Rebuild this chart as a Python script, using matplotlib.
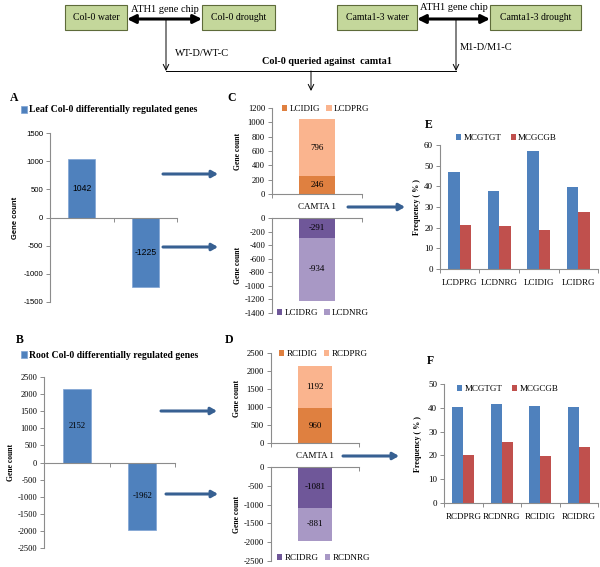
import matplotlib.pyplot as plt
import numpy as np
from matplotlib.patches import Rectangle

plt.rcParams['axes.unicode_minus'] = False

# data
leaf_counts = [1042, -1225]
root_counts = [2152, -1962]

leaf_up_names = ['LCIDIG', 'LCDPRG']
leaf_up_vals = [246, 796]
leaf_down_names = ['LCIDRG', 'LCDNRG']
leaf_down_vals = [-291, -934]
root_up_names = ['RCIDIG', 'RCDPRG']
root_up_vals = [960, 1192]
root_down_names = ['RCIDRG', 'RCDNRG']
root_down_vals = [-1081, -881]

leaf_groups = ['LCDPRG', 'LCDNRG', 'LCIDIG', 'LCIDRG']
leaf_mcgtgt = [46.7, 37.6, 57.2, 39.9]
leaf_mcgcgb = [21.5, 21.0, 18.9, 27.5]
root_groups = ['RCDPRG', 'RCDNRG', 'RCIDIG', 'RCIDRG']
root_mcgtgt = [40.2, 41.7, 40.8, 40.2]
root_mcgcgb = [20.0, 25.6, 19.9, 23.7]
motif_names = ['MCGTGT', 'MCGCGB']

W, H = 600, 567
SERIF = 'Liberation Serif'
SANS = 'Liberation Sans'
blue = '#4F81BD'
red = '#C0504D'
up_cols = ['#DF8040', '#FAB48E']
down_cols = ['#6F5799', '#A898C5']
gray = '#8C8C8C'
arrow_col = '#376092'

fig = plt.figure(figsize=(6, 5.67), dpi=100)


def box(x0, y0, x1, y1):
    return [x0 / W, 1 - y1 / H, (x1 - x0) / W, (y1 - y0) / H]


def figpt(x, y):
    return (x / W, 1 - y / H)


def ylab(ax, text, xpix, family, size):
    x0, y0, w, h = ax.get_position().bounds
    ax.set_ylabel(text, family=family, fontsize=size, fontweight='bold', va='center')
    ax.yaxis.set_label_coords((xpix / W - x0) / w, 0.5)


def style(ax, family, size, zero_top=False):
    ax.set_facecolor('none')
    for s in ['top', 'right', 'bottom', 'left']:
        ax.spines[s].set_visible(False)
    ax.spines['left'].set_visible(True)
    ax.spines['left'].set_color(gray)
    ax.spines['left'].set_linewidth(0.8)
    xs = 'top' if zero_top else 'bottom'
    ax.spines[xs].set_visible(True)
    ax.spines[xs].set_color(gray)
    ax.spines[xs].set_linewidth(0.8)
    ax.tick_params(axis='y', length=3, width=0.7, color=gray, pad=2,
                   labelsize=size, labelfontfamily=family)
    ax.tick_params(axis='x', which='minor', length=3, width=0.7, color=gray)


def legend_at(handles, labels, x, y, size, weight='normal', ncol=1, colsp=0.8):
    fig.legend(handles=handles, labels=labels, loc='center left', frameon=False,
               ncol=ncol, bbox_to_anchor=figpt(x, y), borderpad=0, borderaxespad=0,
               handlelength=0.6, handleheight=0.7, handletextpad=0.25,
               columnspacing=colsp, prop=dict(family=SERIF, size=size, weight=weight))


# overlay for flowchart, panel letters and arrows
ov = fig.add_axes([0, 0, 1, 1])
ov.set_xlim(0, W)
ov.set_ylim(H, 0)
ov.set_facecolor('none')
ov.axis('off')

for (x0, x1, txt) in [(65, 127, 'Col-0 water'), (202, 275, 'Col-0 drought'),
                      (337, 417, 'Camta1-3 water'), (490, 581, 'Camta1-3 drought')]:
    ov.add_patch(Rectangle((x0, 5), x1 - x0, 25, fc='#C4D79B', ec='#5E6B3A', lw=0.8))
    ov.text((x0 + x1) / 2, 17.5, txt, ha='center', va='center', family=SERIF, fontsize=7)

for (x0, x1) in [(127, 202), (417, 490)]:
    ov.annotate('', xy=(x1, 19), xytext=(x0, 19),
                arrowprops=dict(arrowstyle='<|-|>,head_length=0.5,head_width=0.25',
                                color='black', lw=2.2, shrinkA=0, shrinkB=0))
ov.text(165, 9, 'ATH1 gene chip', ha='center', va='center', family=SERIF, fontsize=7.5)
ov.text(454, 8, 'ATH1 gene chip', ha='center', va='center', family=SERIF, fontsize=7.5)

for x in [166, 456]:
    ov.annotate('', xy=(x, 71), xytext=(x, 19),
                arrowprops=dict(arrowstyle='->,head_length=0.4,head_width=0.2',
                                color='black', lw=0.7, shrinkA=0, shrinkB=0))
ov.plot([166, 456], [71, 71], color='black', lw=0.7)
ov.annotate('', xy=(311, 91), xytext=(311, 71),
            arrowprops=dict(arrowstyle='->,head_length=0.4,head_width=0.2',
                            color='black', lw=0.7, shrinkA=0, shrinkB=0))
ov.text(175, 53, 'WT-D/WT-C', ha='left', va='center', family=SERIF, fontsize=7.5)
ov.text(460, 48, 'M1-D/M1-C', ha='left', va='center', family=SERIF, fontsize=7.5)
ov.text(327, 62, 'Col-0 queried against  camta1', ha='center', va='center',
        family=SERIF, fontsize=7.3, fontweight='bold')

for (x, y, t) in [(14, 98, 'A'), (20, 340, 'B'), (232, 98, 'C'), (229, 340, 'D'),
                  (429, 125, 'E'), (430, 361, 'F')]:
    ov.text(x, y, t, ha='center', va='center', family=SERIF, fontsize=8.5, fontweight='bold')

for (x0, x1, y) in [(163, 218, 174), (163, 218, 247), (161, 217, 411), (166, 218, 494),
                    (348, 405, 207), (343, 399, 456)]:
    ov.annotate('', xy=(x1, y), xytext=(x0, y),
                arrowprops=dict(arrowstyle='-|>,head_length=0.35,head_width=0.2',
                                color=arrow_col, lw=2.2, shrinkA=0, shrinkB=0))


# panels A and B: overall counts
def count_panel(rect, vals, lim, step, title, legx, legy, family, ylabx):
    ax = fig.add_axes(box(*rect))
    bars = ax.bar(range(len(vals)), vals, width=0.42, color=blue, edgecolor='#7EA3D4',
                  lw=0.5, label=title)
    ax.set_xlim(-0.5, 1.5)
    ax.set_ylim(-lim, lim)
    ax.set_yticks(np.arange(-lim, lim + 1, step))
    ax.spines['bottom'].set_position(('data', 0))
    ax.set_xticks([])
    ax.set_xticks([-0.5, 0.5, 1.5], minor=True)
    style(ax, family, 5.6 if family == SANS else 6)
    for b, v in zip(bars, vals):
        ax.text(b.get_x() + b.get_width() / 2, v / 2, str(v), ha='center', va='center',
                family=family, fontsize=6.2)
    ylab(ax, 'Gene count', ylabx, family, 5.5)
    legend_at([bars], [title], legx, legy, 7, weight='bold')
    return ax


count_panel((50, 133, 177, 302), leaf_counts, 1500, 500,
            'Leaf Col-0 differentially regulated genes', 21, 110, SANS, 15)
count_panel((44, 377, 175, 548), root_counts, 2500, 500,
            'Root Col-0 differentially regulated genes', 21, 355, SERIF, 11)


# panels C and D: stacked bars split at CAMTA 1
def stack_panel(rect, names, vals, cols, lim, step, up, legx, legy, ylabx):
    ax = fig.add_axes(box(*rect))
    bottom = 0
    handles = []
    for n, v, c in zip(names, vals, cols):
        b = ax.bar([0], [v], bottom=bottom, width=0.39, color=c, label=n)
        ax.text(0, bottom + v / 2, str(v), ha='center', va='center', family=SERIF,
                fontsize=6.5)
        handles.append(b)
        bottom += v
    ax.set_xlim(-0.5, 0.5)
    if up:
        ax.set_ylim(0, lim)
        ax.set_yticks(np.arange(0, lim + 1, step))
        ax.set_xticks([0])
        ax.set_xticklabels(['CAMTA 1'], family=SERIF, fontsize=6.5)
        ax.tick_params(axis='x', which='major', length=0, pad=6.5)
    else:
        ax.set_ylim(-lim, 0)
        ax.set_yticks(np.arange(-lim, 1, step))
        ax.xaxis.tick_top()
        ax.set_xticks([])
        ax.tick_params(axis='x', which='minor', direction='in')
    ax.set_xticks([-0.5, 0.5], minor=True)
    style(ax, SERIF, 6.2, zero_top=not up)
    ylab(ax, 'Gene count', ylabx, SERIF, 5.5)
    legend_at(handles, names, legx, legy, 6.5, ncol=2, colsp=0.7)
    return ax


stack_panel((272, 108, 362, 194), leaf_up_names, leaf_up_vals, up_cols, 1200, 200, True,
            282, 109, 238)
stack_panel((272, 218, 362, 313), leaf_down_names, leaf_down_vals, down_cols, 1400, 200,
            False, 277, 313, 238)
stack_panel((271, 353, 359, 443), root_up_names, root_up_vals, up_cols, 2500, 500, True,
            279, 354, 237)
stack_panel((271, 467, 359, 561), root_down_names, root_down_vals, down_cols, 2500, 500,
            False, 277, 558, 237)


# panels E and F: motif frequencies
def motif_panel(rect, groups, v1, v2, lim, legx, legy, ylabx):
    ax = fig.add_axes(box(*rect))
    x = np.arange(len(groups))
    w = 0.29
    b1 = ax.bar(x - w / 2, v1, width=w, color=blue, label=motif_names[0])
    b2 = ax.bar(x + w / 2, v2, width=w, color=red, label=motif_names[1])
    ax.set_xlim(-0.5, len(groups) - 0.5)
    ax.set_ylim(0, lim)
    ax.set_yticks(np.arange(0, lim + 1, 10))
    ax.set_xticks(x)
    ax.set_xticklabels(groups, family=SERIF, fontsize=6.5)
    ax.tick_params(axis='x', which='major', length=0, pad=7)
    ax.set_xticks(np.arange(-0.5, len(groups)), minor=True)
    style(ax, SERIF, 6.5)
    ylab(ax, 'Frequency ( % )', ylabx, SERIF, 5.8)
    legend_at([b1, b2], motif_names, legx, legy, 6.5, ncol=2, colsp=1.0)
    return ax


motif_panel((440, 145, 598, 269), leaf_groups, leaf_mcgtgt, leaf_mcgcgb, 60, 456, 138, 417)
motif_panel((444, 384, 598, 503), root_groups, root_mcgtgt, root_mcgcgb, 50, 457, 389, 418)

fig.savefig('out.png', dpi=100)
